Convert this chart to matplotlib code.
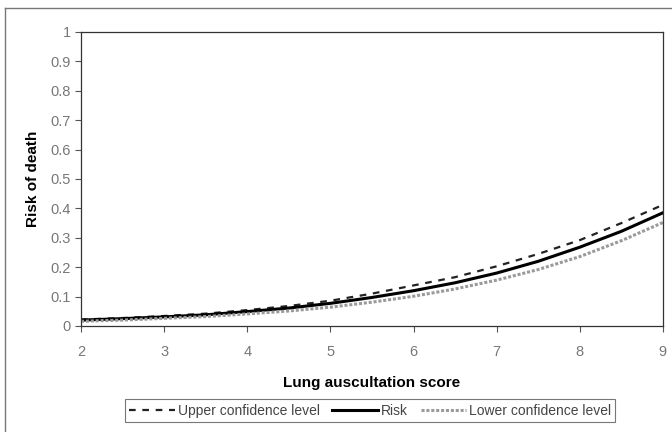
import numpy as np
import matplotlib
matplotlib.use('Agg')
import matplotlib.pyplot as plt
from matplotlib.lines import Line2D

plt.rcParams['font.family'] = ['Liberation Sans', 'DejaVu Sans']

## ========== data ==========
score = [2, 2.5, 3, 3.5, 4, 4.5, 5, 5.5, 6, 6.5, 7, 7.5, 8, 8.5, 9]
risk  = [0.020, 0.025, 0.031, 0.038, 0.049, 0.061, 0.077, 0.097, 0.120, 0.147,
         0.180, 0.220, 0.268, 0.322, 0.385]
upper = [0.022, 0.027, 0.034, 0.042, 0.054, 0.068, 0.086, 0.110, 0.138, 0.166,
         0.203, 0.245, 0.292, 0.350, 0.412]
lower = [0.016, 0.020, 0.026, 0.032, 0.041, 0.051, 0.064, 0.081, 0.101, 0.126,
         0.156, 0.192, 0.236, 0.290, 0.352]
xticks = [2, 3, 4, 5, 6, 7, 8, 9]
yticks = [0, 0.1, 0.2, 0.3, 0.4, 0.5, 0.6, 0.7, 0.8, 0.9, 1]
ytick_labels = ['0', '0.1', '0.2', '0.3', '0.4', '0.5', '0.6', '0.7', '0.8', '0.9', '1']

fig = plt.figure(figsize=(6.72, 4.32), dpi=100)
ax = fig.add_axes([0.1205, 0.2454, 0.866, 0.6806])

low_style = dict(color='#9a9a9a', lw=2.2, ls=(0, (1, 0.6)))
ax.plot(score, upper, color='#222222', lw=1.6, ls=(0, (3, 3)))
ax.plot(score, risk, color='black', lw=2.2)
ax.plot(score, lower, **low_style)

ax.set_xlim(2, 9)
ax.set_ylim(0, 1)
ax.set_xticks(xticks)
ax.set_yticks(yticks)
ax.set_yticklabels(ytick_labels)
ax.tick_params(direction='out', length=4, width=0.8, colors='#555555',
               labelsize=10.5, labelcolor='#777777')
ax.tick_params(axis='x', pad=10)
for s in ax.spines.values():
    s.set_color('#333333')
    s.set_linewidth(0.9)

ax.set_xlabel('Lung auscultation score', fontsize=11, fontweight='bold',
              labelpad=12)
ax.set_ylabel('Risk of death', fontsize=11, fontweight='bold', labelpad=7)

# legend box along the bottom
handles = [Line2D([], [], color='#222222', lw=1.6, ls=(0, (3, 3))),
           Line2D([], [], color='black', lw=2.2),
           Line2D([], [], **low_style)]
names = ['Upper confidence level', 'Risk', 'Lower confidence level']
leg = fig.legend(handles, names, loc='center', bbox_to_anchor=(0.551, 0.0495),
                 ncol=3, frameon=True, fancybox=False, fontsize=10,
                 handlelength=3.3, handletextpad=0.2, columnspacing=0.9,
                 borderpad=0.3, labelcolor='#444444')
leg.get_frame().set_edgecolor('#555555')
leg.get_frame().set_linewidth(0.8)

# outer chart frame
fig.add_artist(Line2D([0.008, 0.008], [0.0, 0.982], color='#777777', lw=1.0,
                      transform=fig.transFigure))
fig.add_artist(Line2D([0.008, 1.0], [0.982, 0.982], color='#777777', lw=1.0,
                      transform=fig.transFigure))

fig.savefig('out.png', dpi=100)
